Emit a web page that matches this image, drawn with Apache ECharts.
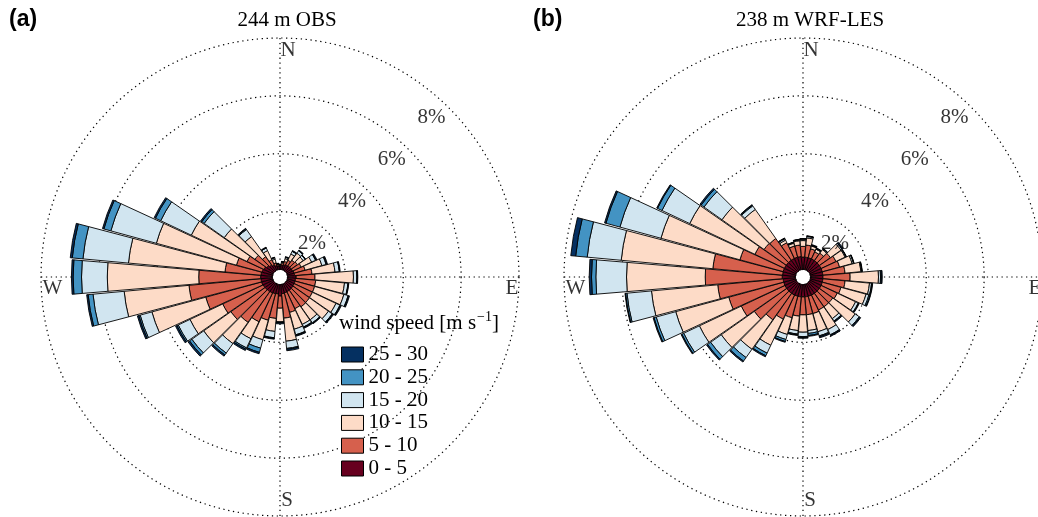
<!DOCTYPE html>
<html>
<head>
<meta charset="utf-8">
<script src="https://cdn.jsdelivr.net/npm/echarts@6/dist/echarts.min.js"></script>
<style>
  html, body { margin: 0; padding: 0; background: #ffffff; }
  #chart { width: 1038px; height: 517px; }
</style>
</head>
<body>
<div id="chart"></div>
<script>
// Wind direction sectors (degrees clockwise from north, 10° bins)
const directions = ['0', '10', '20', '30', '40', '50', '60', '70', '80', '90', '100', '110',
  '120', '130', '140', '150', '160', '170', '180', '190', '200', '210', '220', '230',
  '240', '250', '260', '270', '280', '290', '300', '310', '320', '330', '340', '350'];

// Wind speed classes [m s-1]
const speedBins = ['0 - 5', '5 - 10', '10 - 15', '15 - 20', '20 - 25', '25 - 30'];
const binColors = ['#67001f', '#d6604d', '#fddbc7', '#d1e5f0', '#4393c3', '#053061'];

// Frequency (%) per direction and speed class, 244 m observations
const obs0to5 = [0.12, 0.15, 0.18, 0.20, 0.22, 0.22, 0.22, 0.24, 0.25, 0.30, 0.28, 0.28,
  0.28, 0.29, 0.30, 0.30, 0.31, 0.32, 0.40, 0.33, 0.34, 0.35, 0.36, 0.37,
  0.38, 0.40, 0.40, 0.41, 0.40, 0.38, 0.35, 0.30, 0.25, 0.20, 0.15, 0.13];
const obs5to10 = [0.03, 0.07, 0.12, 0.18, 0.23, 0.26, 0.33, 0.40, 0.60, 0.65, 0.70, 0.70,
  0.70, 0.70, 0.70, 0.65, 0.70, 0.85, 0.42, 0.85, 0.95, 1.10, 1.30, 1.45,
  1.55, 2.00, 2.50, 2.14, 1.25, 0.92, 0.65, 0.50, 0.35, 0.20, 0.10, 0.05];
const obs10to15 = [0.02, 0.04, 0.10, 0.24, 0.30, 0.24, 0.40, 0.60, 0.80, 1.33, 1.00, 1.05,
  0.90, 0.80, 0.55, 0.60, 0.60, 0.80, 0.48, 0.45, 0.70, 0.65, 0.90, 1.15,
  1.25, 1.93, 2.25, 3.16, 3.35, 2.87, 2.13, 1.30, 0.85, 0.35, 0.13, 0.02];
const obs15to20 = [0.00, 0.01, 0.05, 0.10, 0.10, 0.08, 0.15, 0.15, 0.15, 0.12, 0.12, 0.15,
  0.15, 0.16, 0.13, 0.10, 0.20, 0.25, 0.00, 0.22, 0.30, 0.35, 0.40, 0.50,
  0.45, 0.42, 1.08, 0.89, 1.58, 1.63, 1.17, 0.85, 0.30, 0.10, 0.05, 0.01];
const obs20to25 = [0.00, 0.00, 0.00, 0.01, 0.01, 0.01, 0.02, 0.02, 0.01, 0.01, 0.01, 0.02,
  0.02, 0.02, 0.02, 0.02, 0.02, 0.03, 0.02, 0.02, 0.15, 0.05, 0.08, 0.10,
  0.05, 0.05, 0.17, 0.29, 0.37, 0.25, 0.20, 0.10, 0.03, 0.01, 0.01, 0.00];
const obs25to30 = [0.00, 0.01, 0.02, 0.02, 0.02, 0.01, 0.03, 0.03, 0.02, 0.02, 0.02, 0.03,
  0.03, 0.03, 0.02, 0.03, 0.03, 0.05, 0.04, 0.03, 0.05, 0.05, 0.05, 0.06,
  0.05, 0.05, 0.05, 0.06, 0.07, 0.05, 0.05, 0.05, 0.02, 0.02, 0.01, 0.01];

// Frequency (%) per direction and speed class, 238 m WRF-LES
const les0to5 = [0.43, 0.43, 0.43, 0.43, 0.43, 0.43, 0.43, 0.43, 0.43, 0.43, 0.43, 0.43,
  0.43, 0.43, 0.43, 0.43, 0.43, 0.43, 0.43, 0.43, 0.43, 0.43, 0.43, 0.43,
  0.43, 0.43, 0.43, 0.46, 0.45, 0.45, 0.45, 0.45, 0.45, 0.45, 0.45, 0.45];
const les5to10 = [0.37, 0.42, 0.32, 0.27, 0.32, 0.47, 0.57, 0.62, 0.77, 0.94, 0.77, 0.67,
  0.62, 0.57, 0.57, 0.57, 0.62, 0.62, 0.62, 0.67, 0.77, 0.92, 1.12, 1.37,
  1.67, 1.97, 2.27, 2.66, 2.42, 1.55, 1.13, 0.94, 0.92, 0.60, 0.40, 0.40];
const les10to15 = [0.20, 0.25, 0.10, 0.10, 0.15, 0.45, 0.35, 0.45, 0.55, 0.98, 0.85, 0.90,
  0.70, 0.95, 0.50, 0.75, 0.65, 0.55, 0.60, 0.50, 0.60, 1.00, 1.25, 1.40,
  1.60, 1.90, 2.30, 2.72, 3.18, 2.83, 2.49, 1.78, 1.23, 0.10, 0.10, 0.15];
const les15to20 = [0.05, 0.05, 0.02, 0.02, 0.03, 0.05, 0.03, 0.05, 0.03, 0.07, 0.07, 0.10,
  0.10, 0.17, 0.10, 0.20, 0.15, 0.10, 0.15, 0.12, 0.18, 0.30, 0.35, 0.45,
  0.60, 0.70, 0.85, 1.06, 1.18, 1.47, 1.06, 0.76, 0.15, 0.05, 0.02, 0.03];
const les20to25 = [0.01, 0.01, 0.01, 0.01, 0.01, 0.01, 0.01, 0.01, 0.01, 0.03, 0.02, 0.04,
  0.02, 0.03, 0.02, 0.02, 0.03, 0.07, 0.03, 0.03, 0.07, 0.10, 0.15, 0.13,
  0.07, 0.08, 0.05, 0.15, 0.40, 0.50, 0.17, 0.12, 0.03, 0.02, 0.01, 0.01];
const les25to30 = [0.01, 0.01, 0.02, 0.02, 0.01, 0.04, 0.01, 0.01, 0.01, 0.03, 0.02, 0.02,
  0.02, 0.03, 0.03, 0.03, 0.04, 0.03, 0.03, 0.02, 0.03, 0.04, 0.04, 0.04,
  0.03, 0.03, 0.02, 0.08, 0.17, 0.05, 0.03, 0.05, 0.02, 0.01, 0.01, 0.01];

// Radial rings (%) and compass points
const ringValues = [2, 4, 6, 8];
const ringLabels = ['2%', '4%', '6%', '8%'];
const compassNames = ['N', 'E', 'S', 'W'];
const compassAngles = [0, 90, 180, 270];

const panelTitles = ['244 m OBS', '238 m WRF-LES'];
const panelTags = ['(a)', '(b)'];
const panelData = [
  [obs0to5, obs5to10, obs10to15, obs15to20, obs20to25, obs25to30],
  [les0to5, les5to10, les10to15, les15to20, les20to25, les25to30]
];

const SERIF = 'Liberation Serif';
const centers = [[280, 277], [803, 277]];
const radiusPx = [7.5, 239];
const rMax = 8;
const dotted = { color: '#000', width: 1.2, type: [1.3, 3.6] };
// label nudges relative to the outer ring point of each compass direction
const compassNudge = { N: [8, 12], E: [-7, 11.5], S: [7, -16], W: [11.5, 11.5] };

const polar = [], angleAxis = [], radiusAxis = [], series = [], graphic = [];

centers.forEach((c, p) => {
  const gridIdx = polar.length;
  polar.push({ center: c, radius: radiusPx });
  const barIdx = polar.length;
  polar.push({ center: c, radius: radiusPx });

  // dotted grid: cardinal spokes and rings
  angleAxis.push({
    polarIndex: gridIdx, type: 'value', min: 0, max: 360, interval: 90,
    startAngle: 90, clockwise: true,
    axisLine: { show: false }, axisTick: { show: false }, axisLabel: { show: false },
    splitLine: { show: true, lineStyle: dotted }
  });
  radiusAxis.push({
    polarIndex: gridIdx, type: 'value', min: 0, max: rMax, interval: 2,
    axisLine: { show: false }, axisTick: { show: false }, axisLabel: { show: false },
    splitLine: { show: true, lineStyle: dotted }
  });

  // sectors for the stacked bars, first sector centred on north
  angleAxis.push({
    polarIndex: barIdx, type: 'category', data: directions,
    startAngle: 90 + 180 / directions.length, clockwise: true, boundaryGap: true,
    axisLine: { show: false }, axisTick: { show: false }, axisLabel: { show: false },
    splitLine: { show: false }
  });
  radiusAxis.push({
    polarIndex: barIdx, type: 'value', min: 0, max: rMax,
    axisLine: { show: false }, axisTick: { show: false }, axisLabel: { show: false },
    splitLine: { show: false }
  });

  panelData[p].forEach((vals, k) => {
    series.push({
      type: 'bar', coordinateSystem: 'polar', polarIndex: barIdx,
      name: speedBins[k], stack: 'rose' + p, data: vals,
      barCategoryGap: '5%',
      itemStyle: { color: binColors[k], borderColor: '#000', borderWidth: 0.9 },
      emphasis: { disabled: true }, z: 3
    });
  });

  // ring labels along the north-east diagonal
  series.push({
    type: 'scatter', coordinateSystem: 'polar', polarIndex: gridIdx,
    symbolSize: 0, silent: true, z: 4,
    data: ringValues.map((v, i) => ({ name: ringLabels[i], value: [v - 0.65, 43.5] })),
    label: {
      show: true, position: [0, 0], align: 'center', verticalAlign: 'middle',
      formatter: '{b}', fontFamily: SERIF, fontSize: 21, color: '#000'
    }
  });

  // compass labels just inside the outer ring
  series.push({
    type: 'scatter', coordinateSystem: 'polar', polarIndex: gridIdx,
    symbolSize: 0, silent: true, z: 4,
    data: compassNames.map((n, i) => ({
      name: n, value: [rMax, compassAngles[i]],
      label: { offset: compassNudge[n] }
    })),
    label: {
      show: true, position: [0, 0], align: 'center', verticalAlign: 'middle',
      formatter: '{b}', fontFamily: SERIF, fontSize: 21, color: '#000'
    }
  });

  graphic.push({
    type: 'text', x: c[0] + 7, y: 20,
    style: { text: panelTitles[p], font: '21px "' + SERIF + '"', fill: '#000',
      textAlign: 'center', textVerticalAlign: 'middle' }
  });
  graphic.push({
    type: 'text', x: p === 0 ? 9 : 533, y: 20,
    style: { text: panelTags[p], font: 'bold 23px "Liberation Sans"', fill: '#000',
      textAlign: 'left', textVerticalAlign: 'middle' }
  });
});

// legend heading with superscript unit
graphic.push({
  type: 'text', x: 339, y: 323,
  style: {
    text: '{a|wind speed [m s}{b|−1}{a|]}',
    textVerticalAlign: 'middle',
    rich: {
      a: { fontFamily: SERIF, fontSize: 21, fill: '#000', color: '#000' },
      b: { fontFamily: SERIF, fontSize: 14, fill: '#000', color: '#000', padding: [0, 0, 12, 1] }
    }
  }
});

const chart = echarts.init(document.getElementById('chart'), null, { renderer: 'canvas' });
chart.setOption({
  backgroundColor: '#ffffff',
  animation: false,
  polar, angleAxis, radiusAxis, series, graphic,
  legend: {
    data: speedBins.slice().reverse(),
    orient: 'vertical', left: 336, top: 339,
    icon: 'rect', itemWidth: 22, itemHeight: 15, itemGap: 1.8,
    selectedMode: false,
    itemStyle: { borderColor: '#000', borderWidth: 1 },
    textStyle: { fontFamily: SERIF, fontSize: 21, lineHeight: 17, color: '#000' }
  }
});
</script>
</body>
</html>
